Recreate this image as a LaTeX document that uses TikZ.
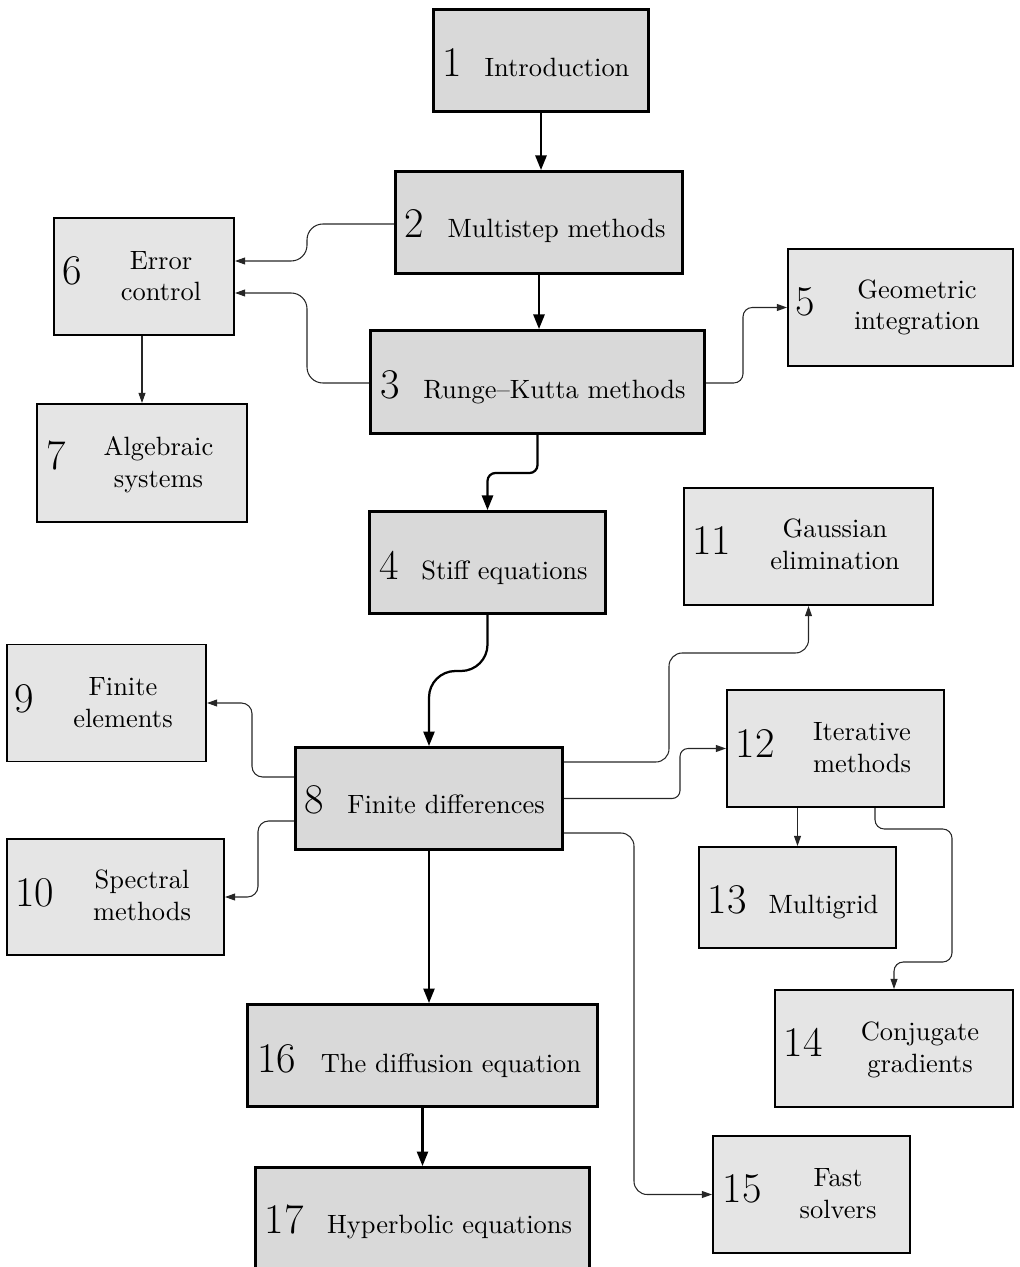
\documentclass[tikz,border=0pt]{standalone}
\usetikzlibrary{arrows.meta}
\definecolor{darkfill}{RGB}{217,217,217}
\definecolor{lightfill}{RGB}{229,229,229}
\tikzset{
  mainbox/.style 2 args={draw=black, line width=1.1pt, fill=darkfill,
    minimum width={(#1-3)*0.378pt}, minimum height={(#2-3)*0.378pt}, inner sep=0pt},
  sidebox/.style 2 args={draw=black, line width=0.6pt, fill=lightfill,
    minimum width={(#1-1.6)*0.378pt}, minimum height={(#2-1.6)*0.378pt}, inner sep=0pt},
  num/.style={inner sep=0pt, anchor=base, font=\fontsize{16}{19}\selectfont},
  lbl/.style={inner sep=0pt, anchor=base, font=\fontsize{10}{12}\selectfont},
  bigflow/.style={line width=0.85pt, draw=black, -{Triangle[length=5.5pt,width=4.2pt]}},
  smallflow/.style={line width=0.4pt, draw=black!85, -{Triangle[length=3.8pt,width=2.6pt]}},
}
\begin{document}
\begin{tikzpicture}[x=0.378pt, y=-0.378pt]
\useasboundingbox (0,0) rectangle (1019,1267);

% main chain boxes
\node[mainbox={218}{105}] (b1) at (541,60.5) {};
\node[num] (n1) at (452.5,77) {1};
\node[lbl] (t1) at (557,77) {Introduction};

\node[mainbox={290}{105}] (b2) at (539,222.5) {};
\node[num] (n2) at (414,238) {2};
\node[lbl] (t2) at (556.5,238) {Multistep methods};

\node[mainbox={337}{106}] (b3) at (537.5,382) {};
\node[num] (n3) at (390.5,399) {3};
\node[lbl] (t3) at (554.5,399) {Runge–Kutta methods};

\node[mainbox={239}{105}] (b4) at (487.5,562.5) {};
\node[num] (n4) at (389,579) {4};
\node[lbl] (t4) at (504.5,579) {Stiff equations};

\node[mainbox={270}{105}] (b8) at (429,798.5) {};
\node[num] (n8) at (314,813) {8};
\node[lbl] (t8) at (446,813) {Finite differences};

\node[mainbox={353}{105}] (b16) at (422.5,1055.5) {};
\node[num] (n16) at (276.5,1072) {16};
\node[lbl] (t16) at (451,1072) {The diffusion equation};

\node[mainbox={337}{105}] (b17) at (422.5,1218.5) {};
\node[num] (n17) at (284,1233) {17};
\node[lbl] (t17) at (449.5,1233) {Hyperbolic equations};

% side boxes
\node[sidebox={227}{119}] (b5) at (900.5,307.5) {};
\node[num] (n5) at (805.5,316) {5};
\node[lbl] (t5) at (917,330) {\begin{tabular}[b]{@{}c@{}}Geometric\\integration\end{tabular}};

\node[sidebox={182}{119}] (b6) at (144,276.5) {};
\node[num] (n6) at (72,285) {6};
\node[lbl] (t6) at (161,301) {\begin{tabular}[b]{@{}c@{}}Error\\control\end{tabular}};

\node[sidebox={212}{120}] (b7) at (142,463) {};
\node[num] (n7) at (56,470) {7};
\node[lbl] (t7) at (158.5,487) {\begin{tabular}[b]{@{}c@{}}Algebraic\\systems\end{tabular}};

\node[sidebox={201}{119}] (b9) at (106.5,703) {};
\node[num] (n9) at (24,712) {9};
\node[lbl] (t9) at (123,727) {\begin{tabular}[b]{@{}c@{}}Finite\\elements\end{tabular}};

\node[sidebox={219}{118}] (b10) at (115.5,897) {};
\node[num] (n10) at (35,906) {10};
\node[lbl] (t10) at (142,920) {\begin{tabular}[b]{@{}c@{}}Spectral\\methods\end{tabular}};

\node[sidebox={251}{119}] (b11) at (808.5,546.5) {};
\node[num] (n11) at (711.5,554) {11};
\node[lbl] (t11) at (835,569) {\begin{tabular}[b]{@{}c@{}}Gaussian\\elimination\end{tabular}};

\node[sidebox={219}{119}] (b12) at (835.5,748.5) {};
\node[num] (n12) at (755,757) {12};
\node[lbl] (t12) at (862,772) {\begin{tabular}[b]{@{}c@{}}Iterative\\methods\end{tabular}};

\node[sidebox={199}{103}] (b13) at (797.5,897.5) {};
\node[num] (n13) at (727,913) {13};
\node[lbl] (t13) at (823.5,913) {Multigrid};

\node[sidebox={240}{119}] (b14) at (894,1048.5) {};
\node[num] (n14) at (803,1056) {14};
\node[lbl] (t14) at (920,1072) {\begin{tabular}[b]{@{}c@{}}Conjugate\\gradients\end{tabular}};

\node[sidebox={199}{119}] (b15) at (811.5,1194.5) {};
\node[num] (n15) at (742,1202) {15};
\node[lbl] (t15) at (838,1218) {\begin{tabular}[b]{@{}c@{}}Fast\\solvers\end{tabular}};

% main flow
\draw[bigflow] (b1.south) -- (b1.south |- b2.north);
\draw[bigflow] (b2.south) -- (b2.south |- b3.north);
\draw[bigflow, rounded corners=3pt] (b3.south) |- (487.5,473) -- (b4.north);
\draw[bigflow, rounded corners=10pt] (b4.south) |- (429,671) -- (b8.north);
\draw[bigflow] (b8.south) -- (b8.south |- b16.north);
\draw[bigflow] (b16.south) -- (b16.south |- b17.north);

% side flows
\draw[smallflow, rounded corners=6pt] ([shift={(0,1.5)}]b2.west) -| (307,261) -- ([shift={(0,-15.5)}]b6.east);
\draw[smallflow, rounded corners=6pt] ([shift={(0,1)}]b3.west) -| (307,293) -- ([shift={(0,16.5)}]b6.east);
\draw[smallflow] (b7.north |- b6.south) -- (b7.north);
\draw[smallflow, rounded corners=3.5pt] ([shift={(0,1)}]b3.east) -| (743,307.5) -- (b5.west);
\draw[smallflow, rounded corners=4pt] ([shift={(0,-21.5)}]b8.west) -| (252,703) -- (b9.east);
\draw[smallflow, rounded corners=4pt] ([shift={(0,22.5)}]b8.west) -| (258,897) -- (b10.east);
\draw[smallflow, rounded corners=5pt] ([shift={(0,-36.5)}]b8.east) -| (669,653) -| (b11.south);
\draw[smallflow, rounded corners=3pt] (b8.east) -| (680,748.5) -- (b12.west);
\draw[smallflow, rounded corners=5pt] ([shift={(0,34.5)}]b8.east) -| (634,1194.5) -- (b15.west);
\draw[smallflow] (b13.north |- b12.south) -- (b13.north);
\draw[smallflow, rounded corners=3.5pt] ([shift={(39.5,0)}]b12.south) |- (952,829) |- (894,962) -- (b14.north);
\end{tikzpicture}
\end{document}
